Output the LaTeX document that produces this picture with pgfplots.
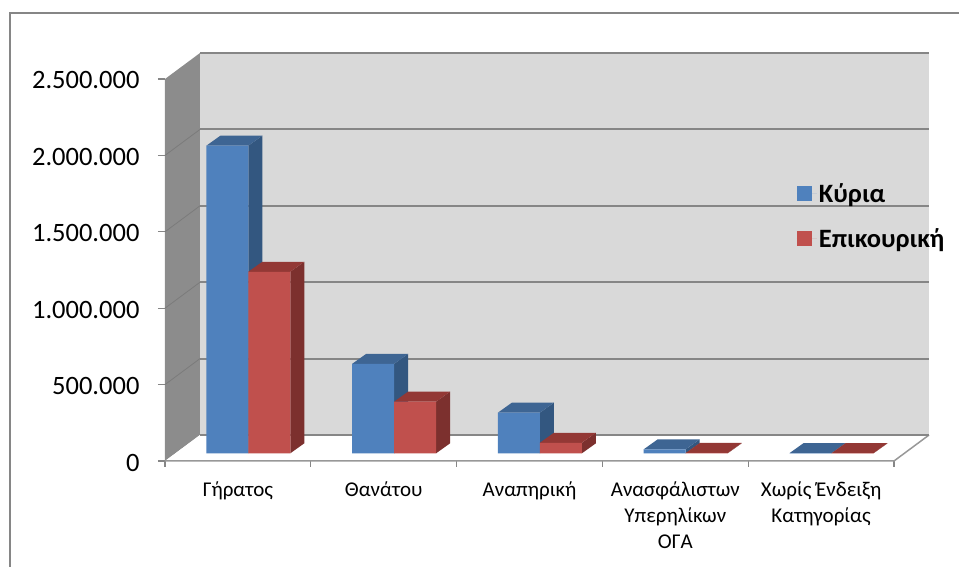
\documentclass[border=0pt]{standalone}
\usepackage{fontspec}
\setmainfont{Carlito}
\usepackage{pgfplots}
\pgfplotsset{compat=1.18}

\definecolor{wall}{HTML}{D9D9D9}
\definecolor{sidewall}{HTML}{8C8C8C}
\definecolor{gridc}{HTML}{868686}
\definecolor{bluef}{HTML}{4F81BD}
\definecolor{bluet}{HTML}{3E6593}
\definecolor{blues}{HTML}{335780}
\definecolor{redf}{HTML}{C0504D}
\definecolor{redt}{HTML}{933835}
\definecolor{reds}{HTML}{7C302E}

% bars stand a little inside the floor
\tikzset{barpos/.style={xshift=10.4pt,yshift=7.7pt}}

\begin{document}
\begin{tikzpicture}[x=1pt,y=1pt]
\useasboundingbox (0,0) rectangle (959,567);
\draw[gridc,line width=1.5pt] (10,0) -- (10,554) -- (959,554);
\begin{axis}[
  at={(165pt,106pt)},anchor=south west,
  scale only axis,width=764pt,height=409.5pt,
  xmin=-0.5,xmax=4.74,ymin=0,ymax=2680000,
  clip=false,
  axis line style={draw=none},
  tick align=outside,
  xtick pos=bottom,ytick pos=left,
  xtick={0,1,2,3,4},
  xticklabels={Γήρατος,Θανάτου,Αναπηρική,{Ανασφάλιστων\\Υπερηλίκων\\ΟΓΑ},{Χωρίς Ένδειξη\\Κατηγορίας}},
  major x tick style={draw=none},
  minor xtick={-0.5,0.5,1.5,2.5,3.5,4.5},
  minor x tick style={gridc,line width=1.2pt},
  minor tick length=6pt,
  ytick={0,500000,1000000,1500000,2000000,2500000},
  major y tick style={gridc,line width=1.2pt},
  major tick length=7pt,
  scaled y ticks=false,
  /pgf/number format/.cd,fixed,precision=0,1000 sep={.},assume math mode=true,
  /pgfplots/.cd,
  xticklabel style={font=\fontsize{21}{26}\selectfont,align=center,anchor=north,yshift=-10pt},
  yticklabel style={font=\fontsize{26.5}{30}\selectfont,xshift=-15pt,yshift=-1.5pt},
  legend image code/.code={\fill[#1,draw=none] (0pt,-7.5pt) rectangle (15pt,7.5pt);\path[draw=none] (0pt,0pt) -- (20pt,0pt);},
  legend style={at={(axis cs:3.833,1832000)},anchor=north west,draw=none,fill=none,
    font=\fontsize{26.5}{30}\selectfont\bfseries,row sep=21pt,inner sep=0pt},
  legend cell align=left,
]
% walls and floor
\addplot[forget plot,fill=wall,draw=none] coordinates {(-0.26,170000)(4.74,170000)(4.74,2670000)(-0.26,2670000)};
\addplot[forget plot,fill=sidewall,draw=none] coordinates {(-0.5,0)(-0.5,2500000)(-0.26,2670000)(-0.26,170000)};
\addplot[forget plot,fill=white,draw=none] coordinates {(-0.5,0)(4.5,0)(4.74,170000)(-0.26,170000)};
\addplot[forget plot,draw=gridc!85!white,line width=1.5pt] coordinates {(-0.5,0)(4.5,0)(4.74,170000)};
% grid on back wall and side wall
\addplot[forget plot,gridc,line width=2pt,unbounded coords=jump] table {
x y
-0.26 170000
4.74 170000
nan nan
-0.26 670000
4.74 670000
nan nan
-0.26 1170000
4.74 1170000
nan nan
-0.26 1670000
4.74 1670000
nan nan
-0.26 2170000
4.74 2170000
nan nan
-0.26 2670000
4.74 2670000
};
\addplot[forget plot,gridc!92!black,line width=0.8pt,unbounded coords=jump] table {
x y
-0.5 500000
-0.26 670000
nan nan
-0.5 1000000
-0.26 1170000
nan nan
-0.5 1500000
-0.26 1670000
nan nan
-0.5 2000000
-0.26 2170000
};
% blue side faces
\addplot[forget plot,barpos,fill=blues,draw=none,unbounded coords=jump] table {
x y
0 0
0 2013000
0.096 2078400
0.096 65400
nan nan
1 0
1 585000
1.096 650400
1.096 65400
nan nan
2 0
2 266000
2.096 331400
2.096 65400
nan nan
3 0
3 26000
3.096 91400
3.096 65400
nan nan
4 0
4 1000
4.096 66400
4.096 65400
};
% blue top faces
\addplot[forget plot,barpos,fill=bluet,draw=none,unbounded coords=jump] table {
x y
-0.288 2013000
0 2013000
0.096 2078400
-0.192 2078400
nan nan
0.712 585000
1 585000
1.096 650400
0.808 650400
nan nan
1.712 266000
2 266000
2.096 331400
1.808 331400
nan nan
2.712 26000
3 26000
3.096 91400
2.808 91400
nan nan
3.712 1000
4 1000
4.096 66400
3.808 66400
};
% blue front faces
\addplot[forget plot,barpos,ybar,bar width=42pt,bar shift=-21pt,fill=bluef,draw=none] coordinates {
(0,2013000)(1,585000)(2,266000)(3,26000)(4,1000)};
% red side faces
\addplot[forget plot,barpos,fill=reds,draw=none,unbounded coords=jump] table {
x y
0.288 0
0.288 1188000
0.384 1253400
0.384 65400
nan nan
1.288 0
1.288 338000
1.384 403400
1.384 65400
nan nan
2.288 0
2.288 69000
2.384 134400
2.384 65400
nan nan
3.288 0
3.288 2000
3.384 67400
3.384 65400
nan nan
4.288 0
4.288 1000
4.384 66400
4.384 65400
};
% red top faces
\addplot[forget plot,barpos,fill=redt,draw=none,unbounded coords=jump] table {
x y
0 1188000
0.288 1188000
0.384 1253400
0.096 1253400
nan nan
1 338000
1.288 338000
1.384 403400
1.096 403400
nan nan
2 69000
2.288 69000
2.384 134400
2.096 134400
nan nan
3 2000
3.288 2000
3.384 67400
3.096 67400
nan nan
4 1000
4.288 1000
4.384 66400
4.096 66400
};
% red front faces
\addplot[forget plot,barpos,ybar,bar width=42pt,bar shift=21pt,fill=redf,draw=none] coordinates {
(0,1188000)(1,338000)(2,69000)(3,2000)(4,1000)};
\addlegendimage{fill=bluef}
\addlegendentry{Κύρια}
\addlegendimage{fill=redf}
\addlegendentry{Επικουρική}
\end{axis}
\end{tikzpicture}
\end{document}
